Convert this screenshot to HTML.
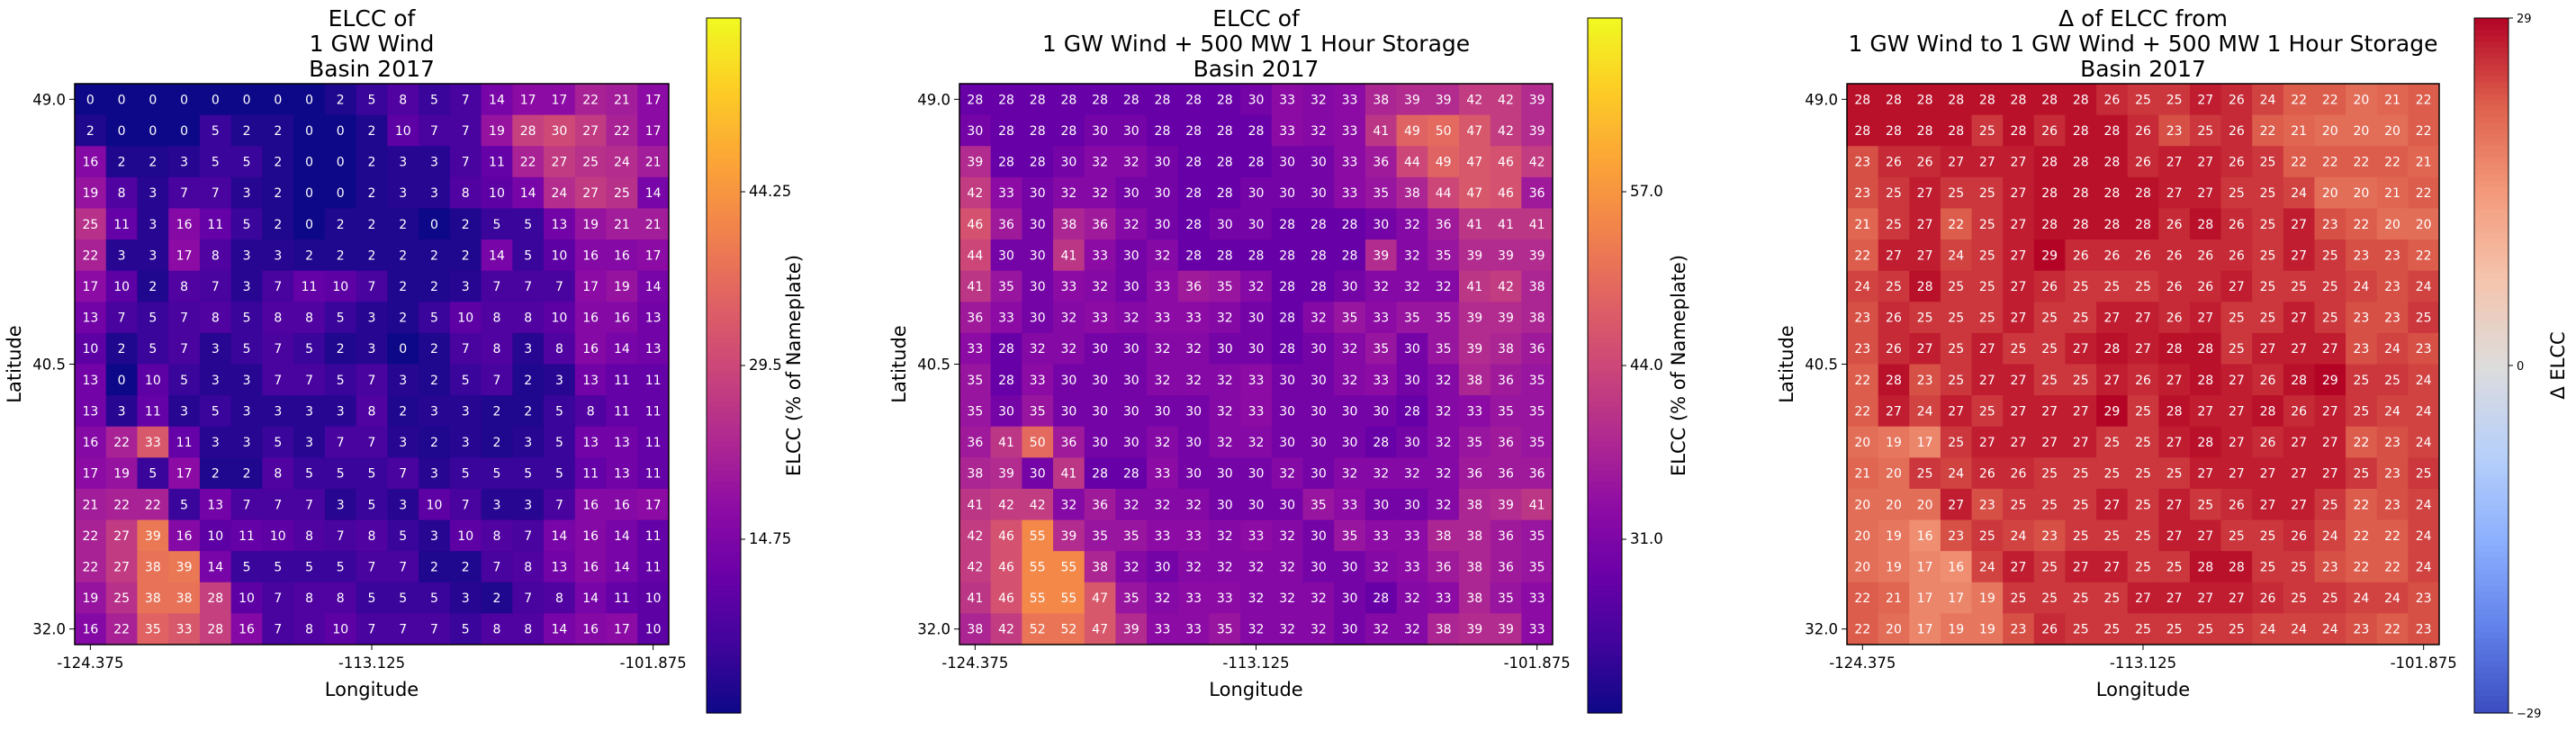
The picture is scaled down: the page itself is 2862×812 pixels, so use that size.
<!DOCTYPE html>
<html><head><meta charset="utf-8"><style>
html,body{margin:0;padding:0;background:#fff;}
svg text{font-family:"DejaVu Sans","Liberation Sans",sans-serif;}
</style></head><body>
<svg id="chart" width="2862" height="807" viewBox="0 0 2862 807" xmlns="http://www.w3.org/2000/svg"></svg>
<script>
const lonTicks = ["-124.375","-113.125","-101.875"];
const latTicks = ["49.0","40.5","32.0"];
const windOnly = [
[0,0,0,0,0,0,0,0,2,5,8,5,7,14,17,17,22,21,17],
[2,0,0,0,5,2,2,0,0,2,10,7,7,19,28,30,27,22,17],
[16,2,2,3,5,5,2,0,0,2,3,3,7,11,22,27,25,24,21],
[19,8,3,7,7,3,2,0,0,2,3,3,8,10,14,24,27,25,14],
[25,11,3,16,11,5,2,0,2,2,2,0,2,5,5,13,19,21,21],
[22,3,3,17,8,3,3,2,2,2,2,2,2,14,5,10,16,16,17],
[17,10,2,8,7,3,7,11,10,7,2,2,3,7,7,7,17,19,14],
[13,7,5,7,8,5,8,8,5,3,2,5,10,8,8,10,16,16,13],
[10,2,5,7,3,5,7,5,2,3,0,2,7,8,3,8,16,14,13],
[13,0,10,5,3,3,7,7,5,7,3,2,5,7,2,3,13,11,11],
[13,3,11,3,5,3,3,3,3,8,2,3,3,2,2,5,8,11,11],
[16,22,33,11,3,3,5,3,7,7,3,2,3,2,3,5,13,13,11],
[17,19,5,17,2,2,8,5,5,5,7,3,5,5,5,5,11,13,11],
[21,22,22,5,13,7,7,7,3,5,3,10,7,3,3,7,16,16,17],
[22,27,39,16,10,11,10,8,7,8,5,3,10,8,7,14,16,14,11],
[22,27,38,39,14,5,5,5,5,7,7,2,2,7,8,13,16,14,11],
[19,25,38,38,28,10,7,8,8,5,5,5,3,2,7,8,14,11,10],
[16,22,35,33,28,16,7,8,10,7,7,7,5,8,8,14,16,17,10]];
const windStorage = [
[28,28,28,28,28,28,28,28,28,30,33,32,33,38,39,39,42,42,39],
[30,28,28,28,30,30,28,28,28,28,33,32,33,41,49,50,47,42,39],
[39,28,28,30,32,32,30,28,28,28,30,30,33,36,44,49,47,46,42],
[42,33,30,32,32,30,30,28,28,30,30,30,33,35,38,44,47,46,36],
[46,36,30,38,36,32,30,28,30,30,28,28,28,30,32,36,41,41,41],
[44,30,30,41,33,30,32,28,28,28,28,28,28,39,32,35,39,39,39],
[41,35,30,33,32,30,33,36,35,32,28,28,30,32,32,32,41,42,38],
[36,33,30,32,33,32,33,33,32,30,28,32,35,33,35,35,39,39,38],
[33,28,32,32,30,30,32,32,30,30,28,30,32,35,30,35,39,38,36],
[35,28,33,30,30,30,32,32,32,33,30,30,32,33,30,32,38,36,35],
[35,30,35,30,30,30,30,30,32,33,30,30,30,30,28,32,33,35,35],
[36,41,50,36,30,30,32,30,32,32,30,30,30,28,30,32,35,36,35],
[38,39,30,41,28,28,33,30,30,30,32,30,32,32,32,32,36,36,36],
[41,42,42,32,36,32,32,32,30,30,30,35,33,30,30,32,38,39,41],
[42,46,55,39,35,35,33,33,32,33,32,30,35,33,33,38,38,36,35],
[42,46,55,55,38,32,30,32,32,32,32,30,30,32,33,36,38,36,35],
[41,46,55,55,47,35,32,33,33,32,32,32,30,28,32,33,38,35,33],
[38,42,52,52,47,39,33,33,35,32,32,32,30,32,32,38,39,39,33]];
const deltaElcc = [
[28,28,28,28,28,28,28,28,26,25,25,27,26,24,22,22,20,21,22],
[28,28,28,28,25,28,26,28,28,26,23,25,26,22,21,20,20,20,22],
[23,26,26,27,27,27,28,28,28,26,27,27,26,25,22,22,22,22,21],
[23,25,27,25,25,27,28,28,28,28,27,27,25,25,24,20,20,21,22],
[21,25,27,22,25,27,28,28,28,28,26,28,26,25,27,23,22,20,20],
[22,27,27,24,25,27,29,26,26,26,26,26,26,25,27,25,23,23,22],
[24,25,28,25,25,27,26,25,25,25,26,26,27,25,25,25,24,23,24],
[23,26,25,25,25,27,25,25,27,27,26,27,25,25,27,25,23,23,25],
[23,26,27,25,27,25,25,27,28,27,28,28,25,27,27,27,23,24,23],
[22,28,23,25,27,27,25,25,27,26,27,28,27,26,28,29,25,25,24],
[22,27,24,27,25,27,27,27,29,25,28,27,27,28,26,27,25,24,24],
[20,19,17,25,27,27,27,27,25,25,27,28,27,26,27,27,22,23,24],
[21,20,25,24,26,26,25,25,25,25,25,27,27,27,27,27,25,23,25],
[20,20,20,27,23,25,25,25,27,25,27,25,26,27,27,25,22,23,24],
[20,19,16,23,25,24,23,25,25,25,27,27,25,25,26,24,22,22,24],
[20,19,17,16,24,27,25,27,27,25,25,28,28,25,25,23,22,22,24],
[22,21,17,17,19,25,25,25,25,27,27,27,27,26,25,25,24,24,23],
[22,20,17,19,19,23,26,25,25,25,25,25,25,24,24,24,23,22,23]];
const cbTicks1 = ["14.75","29.5","44.25"], cbTickVals1=[14.75,29.5,44.25];
const cbTicks2 = ["31.0","44.0","57.0"], cbTickVals2=[31,44,57];
const cbTicks3 = ["29","0","\u221229"], cbTickVals3=[29,0,-29];

const plasma=["#0d0887","#41049d","#6a00a8","#8f0da4","#b12a90","#cc4778","#e16462","#f2844b","#fca636","#fcce25","#f0f921"];
const coolwarm=["#3b4cc0","#6282ea","#8db0fe","#b8d0f9","#dddcdc","#f5c4ad","#f49a7b","#de604d","#b40426"];
function hx(c){return [1,3,5].map(i=>parseInt(c.substr(i,2),16));}
function cmap(stops,t){t=Math.max(0,Math.min(1,t));const n=stops.length-1;const i=Math.min(n-1,Math.floor(t*n));const f=t*n-i;const a=hx(stops[i]),b=hx(stops[i+1]);return "rgb("+a.map((v,k)=>Math.round(v+(b[k]-v)*f)).join(",")+")";}
const NS="http://www.w3.org/2000/svg";const svg=document.getElementById("chart");
function el(tag,attrs,parent,txt){const e=document.createElementNS(NS,tag);for(const k in attrs)e.setAttribute(k,attrs[k]);if(txt!==undefined)e.textContent=txt;(parent||svg).appendChild(e);return e;}

const Y0=93,Y1=716,CBY0=20,CBY1=792;
const panels=[
 {x0:83,x1:743,data:windOnly,stops:plasma,vmin:0,vmax:59,cbx:785,cbl:882,ticks:cbTicks1,tv:cbTickVals1,label:"ELCC (% of Nameplate)",title:["ELCC of","1 GW Wind","Basin 2017"],name:"wind-only",small:false},
 {x0:1066,x1:1725,data:windStorage,stops:plasma,vmin:18,vmax:70,cbx:1764,cbl:1865,ticks:cbTicks2,tv:cbTickVals2,label:"ELCC (% of Nameplate)",title:["ELCC of","1 GW Wind + 500 MW 1 Hour Storage","Basin 2017"],name:"wind-storage",small:false},
 {x0:2052,x1:2710,data:deltaElcc,stops:coolwarm,vmin:-29,vmax:29,cbx:2749,cbl:2842,ticks:cbTicks3,tv:cbTickVals3,label:"\u0394 ELCC",title:["\u0394 of ELCC from","1 GW Wind to 1 GW Wind + 500 MW 1 Hour Storage","Basin 2017"],name:"delta",small:true}
];
panels.forEach(p=>{
 const g=el("g",{});
 
 
 const rows=p.data.length,cols=p.data[0].length;
 const cw=(p.x1-p.x0)/cols,ch=(Y1-Y0)/rows;
 const xs=c=>p.x0+c*cw, ys=r=>Y0+r*ch;
 p.data.forEach((row,r)=>row.forEach((v,c)=>{
  const rc=el("rect",{x:xs(c),y:ys(r),width:cw+0.5,height:ch+0.5,fill:cmap(p.stops,(v-p.vmin)/(p.vmax-p.vmin))},g);
  
  
  const t=el("text",{x:xs(c)+cw/2,y:ys(r)+ch/2+5,"text-anchor":"middle","font-size":"14",fill:"#fff"},g,String(v));
  
  
 }));
 const fr=el("rect",{x:p.x0,y:Y0,width:p.x1-p.x0,height:Y1-Y0,fill:"none",stroke:"#000","stroke-width":1.5},g);
 
 
 [0,9,18].forEach((c,i)=>{const x=xs(c)+cw/2;el("line",{x1:x,x2:x,y1:Y1,y2:Y1+6,stroke:"#000"},g);
  const t=el("text",{x:x,y:Y1+26,"text-anchor":"middle","font-size":"16.5"},g,lonTicks[i]);
  
  });
 [Y0+ch/2,(Y0+Y1)/2,Y1-ch/2].forEach((y,i)=>{el("line",{x1:p.x0-6,x2:p.x0,y1:y,y2:y,stroke:"#000"},g);
  const t=el("text",{x:p.x0-10,y:y+6,"text-anchor":"end","font-size":"16.5"},g,latTicks[i]);
  
  });
 const xl=el("text",{x:(p.x0+p.x1)/2,y:Y1+57,"text-anchor":"middle","font-size":"21"},g,"Longitude");
 
 
 const yl=el("text",{x:0,y:0,"text-anchor":"middle","font-size":"21",transform:"translate("+(p.x0-60)+","+((Y0+Y1)/2)+") rotate(-90)"},g,"Latitude");
 
 
 p.title.forEach((s,i)=>{const t=el("text",{x:(p.x0+p.x1)/2,y:29+i*28,"text-anchor":"middle","font-size":"25"},g,s);
  
  });
 const N=120,cbw=38,hh=(CBY1-CBY0)/N;
 for(let i=0;i<N;i++){el("rect",{x:p.cbx,y:CBY1-(i+1)*hh,width:cbw,height:hh+0.6,fill:cmap(p.stops,(i+0.5)/N)},g);}
 const cb=el("rect",{x:p.cbx,y:CBY0,width:cbw,height:CBY1-CBY0,fill:"none",stroke:"#000","stroke-width":1},g);
 
 
 const cy=v=>CBY1-(v-p.vmin)/(p.vmax-p.vmin)*(CBY1-CBY0);
 p.tv.forEach((v,i)=>{const y=cy(v);el("line",{x1:p.cbx+cbw,x2:p.cbx+cbw+5,y1:y,y2:y,stroke:"#000"},g);
  const t=el("text",{x:p.cbx+cbw+9,y:y+5,"font-size":p.small?"13":"16.5"},g,p.ticks[i]);
  
  });
 const cl=el("text",{x:0,y:0,"text-anchor":"middle","font-size":"21",transform:"translate("+(p.cbl+7)+","+((CBY0+CBY1)/2)+") rotate(-90)"},g,p.label);
 
 
});
</script>
</body></html>
